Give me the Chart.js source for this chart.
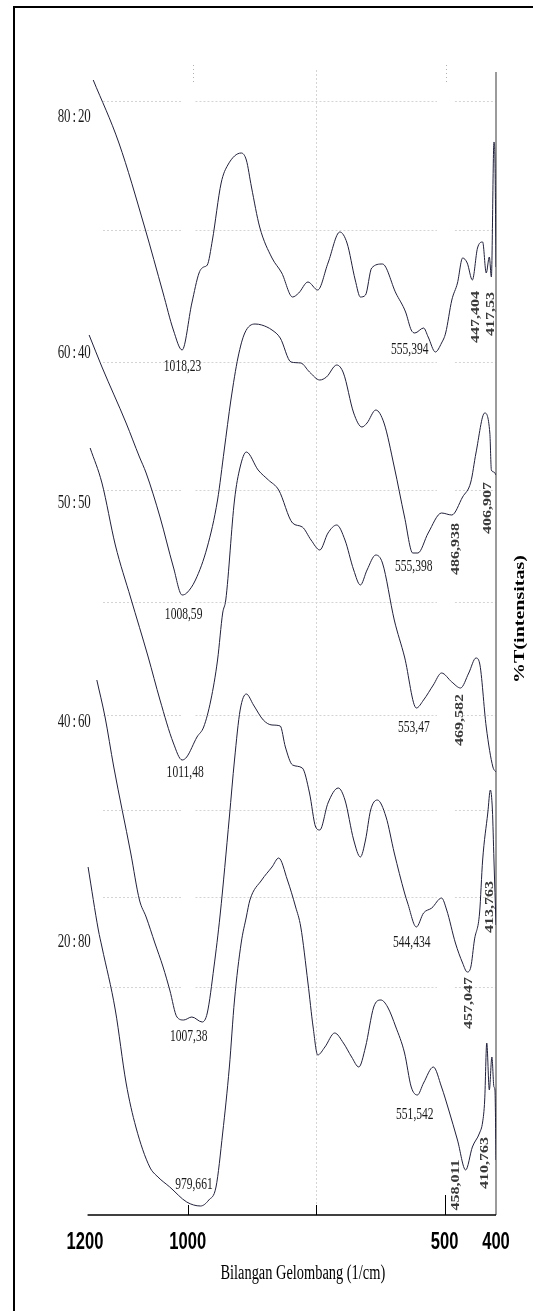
<!doctype html>
<html lang="id">
  <head>
    <meta charset="utf-8">
    <style>
      * {
        margin: 0;
        padding: 0;
      }
      body {
        background: #fff;
      }
      canvas {
        display: block;
      }
    </style>
  </head>
  <body>
    <canvas id="ftirChart" width="533" height="1311"></canvas>

    <script src="https://cdn.jsdelivr.net/npm/chart.js/dist/chart.umd.min.js"></script>
    <script>
// sample ratios, top trace first
const ratios = ['80 : 20', '60 : 40', '50 : 50', '40 : 60', '20 : 80'];

// x: wavenumber (1/cm), y: stacked %T
const wave8020 = [1184, 1134, 1084, 1048, 1028, 1011, 992, 978, 969, 962, 952, 935, 922, 896, 886, 876, 860, 836, 817, 796, 784, 766, 747, 727, 704, 690, 674, 664, 654, 642, 621, 595, 576, 565, 558, 541, 532, 518, 506, 498, 486, 475, 465, 456, 446, 436, 426, 419, 413, 409, 404, 402, 400];
const trans8020 = [113.5, 107.2, 98.8, 92.2, 88.5, 86.5, 91.2, 94.2, 94.8, 95.0, 97.5, 103.2, 105.0, 106.2, 105.5, 102.8, 98.8, 95.7, 94.2, 91.8, 92.2, 93.3, 92.5, 95.2, 98.3, 97.2, 93.5, 91.8, 92.0, 94.7, 95.1, 92.2, 90.3, 88.5, 88.2, 88.7, 87.8, 86.3, 87.2, 88.2, 91.5, 93.2, 95.7, 95.2, 93.5, 96.7, 97.3, 94.2, 95.8, 93.8, 107.3, 105.5, 94.8];

const wave6040 = [1192, 1167, 1120, 1094, 1081, 1054, 1028, 1011, 1002, 985, 962, 942, 929, 916, 902, 889, 869, 856, 836, 820, 799, 780, 763, 743, 730, 710, 697, 677, 661, 651, 634, 618, 598, 578, 562, 552, 532, 506, 486, 465, 449, 439, 422, 412, 409, 404, 400];
const trans6040 = [88.0, 84.8, 79.2, 75.8, 74.2, 69.8, 64.8, 62.0, 62.2, 63.5, 66.8, 71.5, 76.5, 81.5, 85.8, 88.2, 89.1, 89.0, 88.5, 87.7, 85.3, 85.2, 84.3, 83.5, 83.8, 85.0, 84.2, 80.2, 78.8, 79.2, 80.5, 79.2, 74.8, 69.8, 66.2, 66.2, 68.2, 70.2, 70.0, 71.8, 73.3, 76.2, 80.2, 78.2, 74.5, 74.3, 74.0];

const wave5050 = [1190, 1167, 1141, 1111, 1077, 1054, 1028, 1011, 1002, 982, 969, 955, 942, 932, 926, 909, 898, 886, 863, 843, 823, 796, 777, 760, 743, 727, 710, 694, 677, 664, 651, 634, 621, 598, 578, 555, 541, 522, 506, 486, 469, 453, 439, 432, 419, 406, 400];
const trans5050 = [76.7, 73.2, 67.0, 61.7, 55.8, 51.5, 47.2, 45.5, 45.8, 47.8, 48.8, 51.5, 55.5, 60.2, 61.5, 71.5, 74.8, 76.3, 74.5, 73.5, 72.5, 69.2, 68.8, 67.5, 66.5, 68.2, 69.0, 67.5, 64.5, 63.0, 64.5, 66.0, 65.2, 59.5, 55.8, 50.7, 51.5, 53.0, 54.2, 53.3, 52.7, 54.2, 55.7, 55.2, 48.8, 44.8, 44.3];

const wave4060 = [1177, 1161, 1144, 1111, 1094, 1081, 1064, 1048, 1035, 1021, 1008, 992, 972, 962, 949, 937, 919, 909, 898, 886, 872, 853, 836, 820, 810, 796, 777, 763, 751, 743, 727, 707, 694, 677, 664, 654, 644, 631, 614, 598, 578, 572, 555, 541, 525, 506, 496, 479, 465, 456, 449, 442, 432, 426, 416, 411, 407, 404, 400];
const trans4060 = [53.5, 49.8, 44.8, 36.2, 31.5, 29.8, 27.2, 24.8, 22.5, 19.8, 19.5, 19.8, 19.3, 20.2, 24.8, 30.0, 39.8, 45.5, 50.5, 52.1, 51.0, 49.5, 49.0, 48.9, 46.8, 45.0, 44.7, 42.2, 38.8, 38.5, 41.2, 42.7, 41.5, 37.5, 35.8, 37.5, 40.5, 41.5, 39.8, 36.2, 32.2, 31.2, 28.8, 30.2, 30.7, 31.7, 30.5, 27.2, 25.2, 24.3, 24.8, 27.5, 30.2, 35.5, 40.2, 42.5, 40.5, 35.5, 29.0];

const wave2080 = [1194, 1174, 1167, 1141, 1120, 1101, 1074, 1058, 1035, 1002, 975, 959, 945, 932, 919, 909, 896, 886, 879, 856, 836, 823, 806, 790, 780, 766, 756, 747, 733, 714, 697, 681, 667, 654, 638, 624, 611, 595, 578, 565, 553, 541, 522, 506, 492, 475, 459, 446, 432, 426, 422, 418, 413, 408, 404, 402, 400];
const trans2080 = [34.8, 28.5, 26.8, 20.5, 13.2, 8.8, 4.8, 3.8, 2.8, 1.3, 0.9, 1.5, 2.8, 8.2, 14.8, 21.5, 27.2, 29.8, 31.5, 33.5, 34.8, 35.7, 33.5, 30.8, 28.8, 23.2, 18.8, 16.0, 16.8, 18.2, 17.2, 15.8, 14.8, 16.8, 20.8, 21.5, 20.8, 18.8, 16.2, 12.8, 12.0, 13.2, 14.8, 12.8, 10.5, 7.5, 4.5, 6.8, 8.2, 9.3, 11.5, 17.2, 12.5, 15.8, 12.8, 12.5, 5.5];

// ratio label heights (same %T units)
const ratioLevel = [109.8, 86.2, 71.2, 49.3, 27.3];

// peak labels written flat: text, wavenumber, %T
const flatPeaks = [
  ['1018,23', 1010, 84.8], ['555,394', 568, 86.5],
  ['1008,59', 1008, 60.0], ['555,398', 560, 64.8],
  ['1011,48', 1005, 44.2], ['553,47', 560, 48.7],
  ['1007,38', 998, 17.8], ['544,434', 564, 27.2],
  ['979,661', 988, 3.0], ['551,542', 558, 10.0]
];
// peak labels written upright
const uprightPeaks = [
  ['447,404', 439, 89.8], ['417,53', 409, 90.1],
  ['486,938', 478, 66.6], ['406,907', 416, 70.7],
  ['469,582', 470, 49.5],
  ['457,047', 453, 21.2], ['413,763', 412, 30.8],
  ['458,011', 478, 3.0], ['410,763', 422, 5.2]
];

const xTickLabels = [1200, 1000, 500, 400];
const gridLevels = [111.4, 98.5, 85.3, 72.5, 61.3, 50.0, 40.5, 31.8, 22.8];

const waves = [wave8020, wave6040, wave5050, wave4060, wave2080];
const trans = [trans8020, trans6040, trans5050, trans4060, trans2080];

const ink = '#20203a';

// the scan is squeezed sideways, so text is squeezed too
function squeezeText(ctx, text, px, py, sq, upright) {
  ctx.save();
  ctx.translate(px, py);
  if (upright) {
    ctx.rotate(-Math.PI / 2);
    ctx.scale(1, sq);
  } else {
    ctx.scale(sq, 1);
  }
  ctx.fillText(text, 0, 0);
  ctx.restore();
}

// dotted guides + frame
const guides = {
  id: 'guides',
  beforeDatasetsDraw(chart) {
    const { ctx, scales: { x, y } } = chart;
    ctx.save();
    ctx.strokeStyle = '#d4d4d4';
    ctx.lineWidth = 1;
    ctx.setLineDash([2, 2]);
    gridLevels.forEach(v => {
      const py = Math.round(y.getPixelForValue(v)) + 0.5;
      [[1165, 1010], [985, 515], [480, 401]].forEach(([a, b]) => {
        ctx.beginPath();
        ctx.moveTo(x.getPixelForValue(a), py);
        ctx.lineTo(x.getPixelForValue(b), py);
        ctx.stroke();
      });
    });
    const gx = Math.round(x.getPixelForValue(750)) + 0.5;
    ctx.beginPath();
    ctx.moveTo(gx, y.getPixelForValue(114.5));
    ctx.lineTo(gx, y.getPixelForValue(1));
    ctx.stroke();

    ctx.strokeStyle = '#b0b0b0';
    ctx.setLineDash([1, 3]);
    [990, 497].forEach(w => {
      const px = Math.round(x.getPixelForValue(w)) + 0.5;
      ctx.beginPath();
      ctx.moveTo(px, y.getPixelForValue(115));
      ctx.lineTo(px, y.getPixelForValue(113.2));
      ctx.stroke();
    });
    ctx.setLineDash([]);

    // right axis line
    ctx.strokeStyle = '#7a7a7a';
    ctx.lineWidth = 1.5;
    ctx.beginPath();
    ctx.moveTo(x.getPixelForValue(400), y.getPixelForValue(114.3));
    ctx.lineTo(x.getPixelForValue(400), y.getPixelForValue(0));
    ctx.stroke();
    ctx.restore();
  },
  afterDraw(chart) {
    const { ctx } = chart;
    ctx.save();
    ctx.strokeStyle = '#000';
    ctx.lineWidth = 2;
    ctx.beginPath();
    ctx.moveTo(chart.width, 7);
    ctx.lineTo(14, 7);
    ctx.lineTo(14, chart.height);
    ctx.stroke();
    ctx.restore();
  }
};

// bottom axis, tick labels, titles and peak labels
const labels = {
  id: 'labels',
  afterDatasetsDraw(chart) {
    const { ctx, chartArea: { bottom, right }, scales: { x, y } } = chart;
    ctx.save();

    ctx.strokeStyle = '#000';
    ctx.lineWidth = 1.5;
    ctx.beginPath();
    ctx.moveTo(x.getPixelForValue(1195), bottom);
    ctx.lineTo(x.getPixelForValue(400), bottom);
    ctx.stroke();
    ctx.lineWidth = 1;
    [[1000, 10], [750, 10], [500, 20]].forEach(([w, len]) => {
      const px = Math.round(x.getPixelForValue(w)) + 0.5;
      ctx.beginPath();
      ctx.moveTo(px, bottom);
      ctx.lineTo(px, bottom - len);
      ctx.stroke();
    });

    ctx.textAlign = 'center';
    ctx.textBaseline = 'middle';
    ctx.fillStyle = '#000';
    ctx.font = 'bold 23px "Liberation Sans", Arial, sans-serif';
    xTickLabels.forEach(w => squeezeText(ctx, String(w), x.getPixelForValue(w), bottom + 28, 0.72, false));

    ctx.font = '20px "Liberation Serif", "Times New Roman", serif';
    squeezeText(ctx, 'Bilangan Gelombang (1/cm)', x.getPixelForValue(776), bottom + 59, 0.72, false);

    ctx.font = 'bold 20px "Liberation Serif", "Times New Roman", serif';
    squeezeText(ctx, '%T(intensitas)', right + 24, y.getPixelForValue(59.6), 0.75, true);

    ctx.fillStyle = '#1a1a1a';
    ctx.font = '19px "Liberation Serif", "Times New Roman", serif';
    ctx.wordSpacing = '-2px';
    ratios.forEach((r, i) => squeezeText(ctx, r, x.getPixelForValue(1221), y.getPixelForValue(ratioLevel[i]), 0.68, false));
    ctx.wordSpacing = '0px';

    ctx.font = '17px "Liberation Serif", "Times New Roman", serif';
    flatPeaks.forEach(([t, w, v]) => squeezeText(ctx, t, x.getPixelForValue(w), y.getPixelForValue(v), 0.68, false));

    ctx.fillStyle = '#3a3a3a';
    ctx.font = 'bold 16px "Liberation Serif", "Times New Roman", serif';
    uprightPeaks.forEach(([t, w, v]) => squeezeText(ctx, t, x.getPixelForValue(w), y.getPixelForValue(v), 0.72, true));

    ctx.restore();
  }
};

const data = {
  datasets: ratios.map((r, i) => ({
    label: r,
    data: waves[i].map((w, j) => ({ x: w, y: trans[i][j] })),
    borderColor: ink,
    borderWidth: 1,
    pointRadius: 0,
    cubicInterpolationMode: 'monotone',
    fill: false
  }))
};

const config = {
  type: 'line',
  data,
  options: {
    responsive: false,
    animation: false,
    layout: {
      padding: { left: 85, right: 37, top: 60, bottom: 96 }
    },
    scales: {
      x: { type: 'linear', min: 400, max: 1200, reverse: true, display: false },
      y: { type: 'linear', min: 0, max: 115.5, display: false }
    },
    plugins: {
      legend: { display: false },
      tooltip: { enabled: false }
    }
  },
  plugins: [guides, labels]
};

const ftirChart = new Chart(document.getElementById('ftirChart'), config);
    </script>
  </body>
</html>
